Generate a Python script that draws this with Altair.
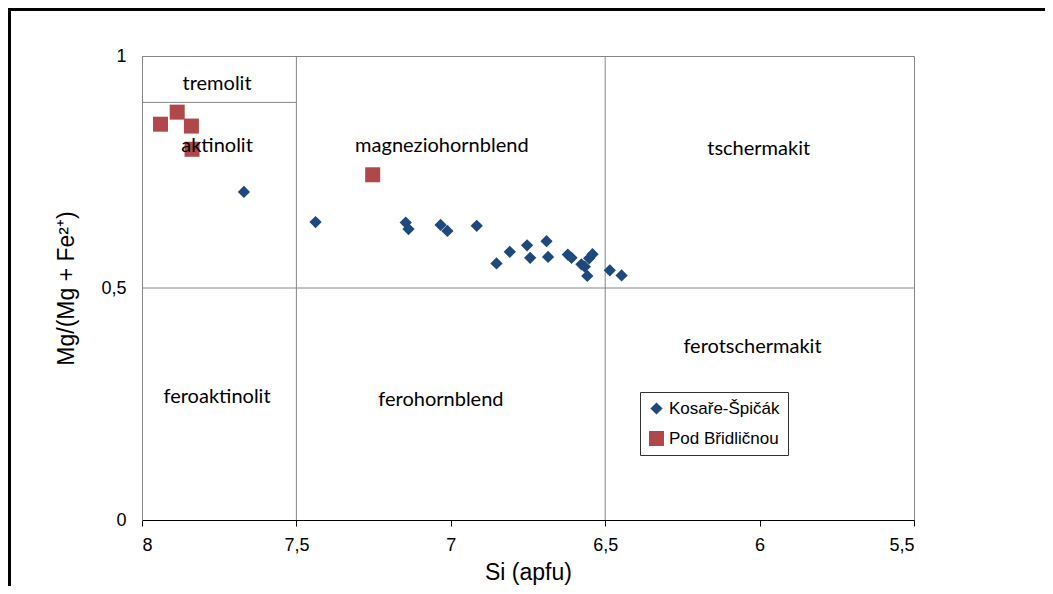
import altair as alt
import pandas as pd

# ---- data ----
series_names = ["Kosaře-Špičák", "Pod Břidličnou"]
series_colors = ["#1F497D", "#B0474A"]

kos_si = [7.67, 7.438, 7.146, 7.137, 7.033, 7.011, 6.916, 6.852, 6.809, 6.753, 6.743,
          6.69, 6.685, 6.621, 6.609, 6.577, 6.566, 6.552, 6.541, 6.558, 6.485, 6.447]
kos_mg = [0.707, 0.642, 0.641, 0.627, 0.636, 0.623, 0.634, 0.553, 0.578, 0.592, 0.565,
          0.601, 0.567, 0.572, 0.565, 0.551, 0.546, 0.564, 0.573, 0.526, 0.538, 0.527]

pod_si = [7.94, 7.886, 7.84, 7.838, 7.253]
pod_mg = [0.853, 0.879, 0.849, 0.799, 0.744]

field_names = ["tremolit", "aktinolit", "magneziohornblend", "tschermakit",
               "feroaktinolit", "ferohornblend", "ferotschermakit"]
field_si = [7.757, 7.757, 7.029, 6.003, 7.757, 7.032, 6.023]
field_mg = [0.94, 0.806, 0.806, 0.80, 0.265, 0.259, 0.373]

# classification boundaries
bound_si = [7.5, 6.5, 8.0, 8.0]
bound_si2 = [7.5, 6.5, 5.5, 7.5]
bound_mg = [0.0, 0.0, 0.5, 0.9]
bound_mg2 = [1.0, 1.0, 0.5, 0.9]

x_ticks = [8, 7.5, 7, 6.5, 6, 5.5]
y_ticks = [0, 0.5, 1]

# ---- tables ----
pts = pd.DataFrame({
    "si": kos_si + pod_si,
    "mg": kos_mg + pod_mg,
    "series": [series_names[0]] * len(kos_si) + [series_names[1]] * len(pod_si),
})
fields = pd.DataFrame({"name": field_names, "si": field_si, "mg": field_mg})
bounds = pd.DataFrame({"si": bound_si, "si2": bound_si2, "mg": bound_mg, "mg2": bound_mg2})

xs = alt.Scale(domain=[8, 5.5], nice=False, zero=False)
ys = alt.Scale(domain=[0, 1], nice=False, zero=False)

comma = "replace(format(datum.value, ''), '.', ',')"

x_axis = alt.Axis(values=x_ticks, labelExpr=comma, title="Si (apfu)", grid=False,
                  domainColor="#000000", tickColor="#000000", tickSize=6,
                  labelPadding=10, titlePadding=7, labelFontSize=18, titleFontSize=23,
                  labelFont="Liberation Sans", titleFont="Liberation Sans",
                  labelColor="#000000", titleColor="#000000", titleFontWeight="normal")
y_axis = alt.Axis(values=y_ticks, labelExpr=comma, title="Mg/(Mg + Fe²⁺)", grid=False,
                  domainColor="#868686", ticks=False, labelPadding=16, titlePadding=22,
                  labelFontSize=18, titleFontSize=23,
                  labelFont="Liberation Sans", titleFont="Liberation Sans",
                  labelColor="#000000", titleColor="#000000", titleFontWeight="normal")

lines = alt.Chart(bounds).mark_rule(color="#868686", strokeWidth=1).encode(
    x=alt.X("si:Q", scale=xs, axis=x_axis),
    x2="si2:Q",
    y=alt.Y("mg:Q", scale=ys, axis=y_axis),
    y2="mg2:Q",
)

points = alt.Chart(pts).mark_point(filled=True, opacity=1).encode(
    x=alt.X("si:Q", scale=xs, axis=x_axis),
    y=alt.Y("mg:Q", scale=ys, axis=y_axis),
    color=alt.Color("series:N", scale=alt.Scale(domain=series_names, range=series_colors),
                    legend=alt.Legend(title=None, orient="none", legendX=498, legendY=336,
                                      fillColor="#FFFFFF", strokeColor="#333333",
                                      padding=8, rowPadding=12, labelFontSize=17,
                                      labelOffset=4,
                                      labelFont="Liberation Sans", labelColor="#000000",
                                      symbolStrokeWidth=0)),
    shape=alt.Shape("series:N", scale=alt.Scale(domain=series_names, range=["diamond", "square"])),
    size=alt.Size("series:N", scale=alt.Scale(domain=series_names, range=[150, 225])),
)

labels = alt.Chart(fields).mark_text(font="Lato", fontSize=20, color="#000000").encode(
    x=alt.X("si:Q", scale=xs),
    y=alt.Y("mg:Q", scale=ys),
    text="name:N",
)

frame = pd.DataFrame({"k": [0]})
top_line = alt.Chart(frame).mark_rule(color="#000000", strokeWidth=3).encode(
    x=alt.value(-134), x2=alt.value(903), y=alt.value(-46.5))
left_line = alt.Chart(frame).mark_rule(color="#000000", strokeWidth=3).encode(
    x=alt.value(-132.5), y=alt.value(-48), y2=alt.value(530))

chart = alt.layer(lines, points, labels, top_line, left_line).properties(
    width=772, height=464,
    autosize=alt.AutoSizeParams(type="none"),
    padding={"left": 134, "top": 48, "right": 131, "bottom": 66},
    background="#FFFFFF",
).configure_view(stroke="#868686", strokeWidth=1)

chart.save("out.html", embed_options={"renderer": "svg", "actions": False})
